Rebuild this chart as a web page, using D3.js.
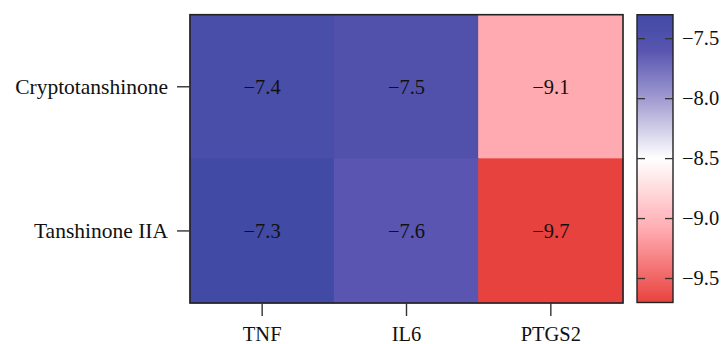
<!DOCTYPE html>
<html>
<head>
<meta charset="utf-8">
<script src="https://cdn.jsdelivr.net/npm/d3@7"></script>
<style>
  html, body { margin: 0; padding: 0; background: #fff; }
  svg text { font-family: "Liberation Serif", "Times New Roman", serif; fill: #111; }
</style>
</head>
<body>
<svg id="chart" width="721" height="344"></svg>
<script>
// Docking scores (kcal/mol)
const compounds = ["Cryptotanshinone", "Tanshinone IIA"];
const targets = ["TNF", "IL6", "PTGS2"];
const cryptoScores = [-7.4, -7.5, -9.1];
const tanshinoneScores = [-7.3, -7.6, -9.7];
const legendTicks = [-7.5, -8.0, -8.5, -9.0, -9.5];
const legendDomain = [-9.7, -7.3];

const scores = [cryptoScores, tanshinoneScores];
const cells = [];
compounds.forEach((c, i) => targets.forEach((t, j) => cells.push({ c, t, v: scores[i][j] })));

const svg = d3.select("#chart");
const plot = { left: 190, top: 14.7, right: 623, bottom: 303 };
const bar = { left: 637, right: 673 };
const fontSize = "20.5px";
const rowFontSize = "21.5px";

// Diverging red–white–blue ramp
const color = d3.scaleLinear()
  .domain([-9.7, -9.1, -8.5, -8.0, -7.6, -7.3])
  .range(["#e8423e", "#ffaab0", "#ffffff", "#a09bd1", "#5955b0", "#414aa5"])
  .clamp(true);

const fmt = d3.format(".1f");

const x = d3.scaleBand().domain(targets).range([plot.left, plot.right]);
const y = d3.scaleBand().domain(compounds).range([plot.top, plot.bottom]);

// Heatmap cells (slightly overlapped so no seams show between tiles)
svg.append("g").selectAll("rect").data(cells).join("rect")
  .attr("x", d => x(d.t) - 0.5)
  .attr("y", d => y(d.c) - 0.5)
  .attr("width", x.bandwidth() + 1)
  .attr("height", y.bandwidth() + 1)
  .attr("fill", d => color(d.v));

svg.append("g").selectAll("text").data(cells).join("text")
  .attr("x", d => x(d.t) + x.bandwidth() / 2)
  .attr("y", d => y(d.c) + y.bandwidth() / 2)
  .attr("dy", "0.33em")
  .attr("text-anchor", "middle")
  .style("font-size", fontSize)
  .text(d => fmt(d.v));

// Panel frame
svg.append("rect")
  .attr("x", plot.left).attr("y", plot.top)
  .attr("width", plot.right - plot.left).attr("height", plot.bottom - plot.top)
  .attr("fill", "none").attr("stroke", "#222").attr("stroke-width", 1.6);

// Axes
const xAxis = svg.append("g")
  .attr("transform", `translate(0,${plot.bottom})`)
  .call(d3.axisBottom(x).tickSize(13).tickPadding(8));
const yAxis = svg.append("g")
  .attr("transform", `translate(${plot.left},0)`)
  .call(d3.axisLeft(y).tickSize(13).tickPadding(9));
[xAxis, yAxis].forEach(a => {
  a.select(".domain").remove();
  a.selectAll(".tick line").attr("stroke", "#333").attr("stroke-width", 1.4);
  a.selectAll(".tick text")
    .attr("fill", "#111")
    .style("font-family", '"Liberation Serif", "Times New Roman", serif');
});
xAxis.selectAll(".tick text").style("font-size", fontSize).attr("y", 37.5).attr("dy", 0);
yAxis.selectAll(".tick text").style("font-size", rowFontSize);

// Color legend
const ly = d3.scaleLinear().domain(legendDomain).range([plot.bottom - 0.5, plot.top]);
const grad = svg.append("defs").append("linearGradient")
  .attr("id", "ramp").attr("x1", 0).attr("y1", 1).attr("x2", 0).attr("y2", 0);
d3.range(0, 1.0001, 0.025).forEach(f => {
  const v = legendDomain[0] + f * (legendDomain[1] - legendDomain[0]);
  grad.append("stop").attr("offset", f).attr("stop-color", color(v));
});
svg.append("rect")
  .attr("x", bar.left).attr("y", ly(legendDomain[1]))
  .attr("width", bar.right - bar.left)
  .attr("height", ly(legendDomain[0]) - ly(legendDomain[1]))
  .attr("fill", "url(#ramp)")
  .attr("stroke", "#222").attr("stroke-width", 1.4);

const lt = svg.append("g");
lt.selectAll("line.l").data(legendTicks).join("line")
  .attr("x1", bar.left).attr("x2", bar.left + 8)
  .attr("y1", d => ly(d)).attr("y2", d => ly(d))
  .attr("stroke", "#333").attr("stroke-width", 1.3);
lt.selectAll("line.r").data(legendTicks).join("line")
  .attr("x1", bar.right - 8).attr("x2", bar.right)
  .attr("y1", d => ly(d)).attr("y2", d => ly(d))
  .attr("stroke", "#333").attr("stroke-width", 1.3);
lt.selectAll("text").data(legendTicks).join("text")
  .attr("x", bar.right + 9)
  .attr("y", d => ly(d))
  .attr("dy", "0.33em")
  .style("font-size", fontSize)
  .text(d => fmt(d));
</script>
</body>
</html>
